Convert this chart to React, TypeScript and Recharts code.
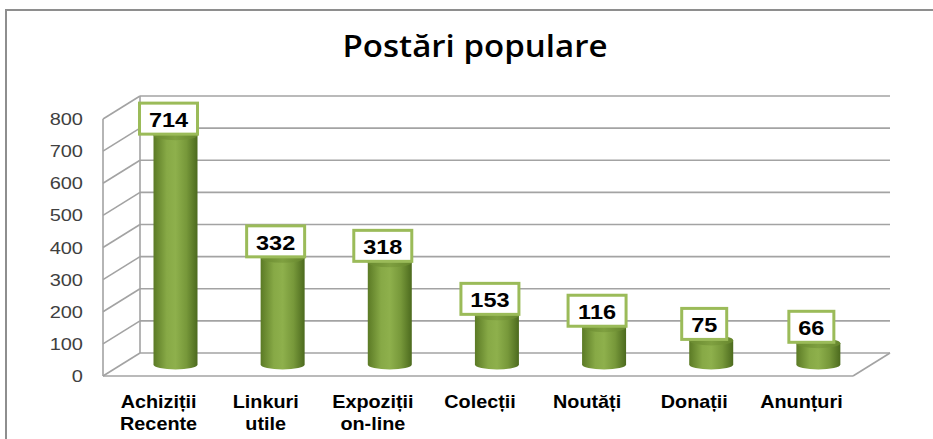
import React from "react";
import { BarChart, Bar, XAxis, YAxis, CartesianGrid, LabelList } from "recharts";

const categories = ["Achiziții Recente", "Linkuri utile", "Expoziții on-line", "Colecții", "Noutăți", "Donații", "Anunțuri"];
const categoryLines = [["Achiziții", "Recente"], ["Linkuri", "utile"], ["Expoziții", "on-line"], ["Colecții"], ["Noutăți"], ["Donații"], ["Anunțuri"]];
const values = [714, 332, 318, 153, 116, 75, 66];
const yTicks = [0, 100, 200, 300, 400, 500, 600, 700, 800];
const title = "Postări populare";

const data = categories.map((c, i) => ({ name: c, value: values[i], lines: categoryLines[i] }));

const W = 933;
const H = 439;
const MARGIN_TOP = 119;
const X_AXIS_H = 63;
const FLOOR_Y = H - X_AXIS_H;
const DX = 37;
const DY = -23;
const GRID = "#a3a3a3";
const FONT = "'Liberation Sans', Arial, sans-serif";

const GridLine = (props: any) => {
  const { x1, y1, x2 } = props;
  const isFloor = Math.abs(y1 - FLOOR_Y) < 2;
  const isTop = Math.abs(y1 - MARGIN_TOP) < 2;
  return (
    <g key={props.key}>
      <line x1={x1 + DX} y1={y1 + DY} x2={x2 + DX} y2={y1 + DY} stroke={GRID} strokeWidth={1.6} />
      <line x1={x1} y1={y1} x2={x1 + DX} y2={y1 + DY} stroke={GRID} strokeWidth={1.6} />
      {isFloor && <line x1={x2} y1={y1} x2={x2 + DX} y2={y1 + DY} stroke={GRID} strokeWidth={1.6} />}
      {isTop && <line x1={x1 + DX} y1={y1 + DY} x2={x1 + DX} y2={FLOOR_Y + DY} stroke={GRID} strokeWidth={1.6} />}
    </g>
  );
};

const Cylinder = (props: any) => {
  const { x, y, width, height, index } = props;
  const left = x + DX / 2;
  const right = left + width;
  const cx = left + width / 2;
  const top = y + DY / 2;
  const bottom = y + height + DY / 2;
  const rx = width / 2;
  const ry = 5;
  const gid = `cyl-body-${index}`;
  const tid = `cyl-top-${index}`;
  return (
    <g>
      <defs>
        <linearGradient id={gid} x1="0" y1="0" x2="1" y2="0">
          <stop offset="0%" stopColor="#5b7a25" />
          <stop offset="30%" stopColor="#87a946" />
          <stop offset="50%" stopColor="#8eb04c" />
          <stop offset="75%" stopColor="#77983a" />
          <stop offset="100%" stopColor="#4c6a1e" />
        </linearGradient>
        <linearGradient id={tid} x1="0" y1="0" x2="1" y2="0">
          <stop offset="0%" stopColor="#6a8a30" />
          <stop offset="50%" stopColor="#7fa040" />
          <stop offset="100%" stopColor="#66862d" />
        </linearGradient>
      </defs>
      <path
        d={`M${left},${top} L${left},${bottom} A${rx},${ry} 0 0 0 ${right},${bottom} L${right},${top} Z`}
        fill={`url(#${gid})`}
      />
      <ellipse cx={cx} cy={top} rx={rx} ry={ry} fill={`url(#${tid})`} />
    </g>
  );
};

const ValueBox = (props: any) => {
  const { x, y, width, value } = props;
  const s = String(value);
  const bw = s.length * 13 + 19;
  const bh = 31;
  const cx = x + width / 2 + DX / 2 - 7;
  const bottom = y + DY / 2 - 1;
  return (
    <g>
      <rect x={cx - bw / 2} y={bottom - bh} width={bw} height={bh} fill="#ffffff" stroke="#9bbb59" strokeWidth={3} />
      <text
        transform={`translate(${cx},${bottom - 7}) scale(1.12,1)`}
        textAnchor="middle"
        fontFamily={FONT}
        fontWeight="bold"
        fontSize={21}
        fill="#000"
      >
        {s}
      </text>
    </g>
  );
};

const XTick = (props: any) => {
  const { x, y, index } = props;
  const lines = categoryLines[index] || [];
  return (
    <g>
      {lines.map((l: string, i: number) => (
        <text
          key={i}
          transform={`translate(${x + 2},${y + 32 + i * 22}) scale(1.1,1)`}
          textAnchor="middle"
          fontFamily={FONT}
          fontWeight="bold"
          fontSize={18}
          fill="#000"
        >
          {l}
        </text>
      ))}
    </g>
  );
};

const YTick = (props: any) => {
  const { x, y, payload } = props;
  return (
    <text
      transform={`translate(${x},${y + 6}) scale(1.25,1)`}
      textAnchor="end"
      fontFamily={FONT}
      fontSize={16}
      fill="#404040"
    >
      {payload.value}
    </text>
  );
};

export default function App() {
  return (
    <div style={{ position: "absolute", left: 0, top: 0, width: W, height: H, overflow: "hidden", background: "#fff" }}>
      <div
        style={{
          position: "absolute",
          left: 5,
          top: 9,
          width: W + 20,
          height: H + 20,
          border: "2.5px solid #8e8e8e",
          boxSizing: "border-box",
        }}
      />
      <svg style={{ position: "absolute", left: 0, top: 0 }} width={W} height={80}>
        <text
          x={475}
          y={57}
          textAnchor="middle"
          fontFamily="'Open Sans', sans-serif"
          fontWeight={600}
          fontSize={31}
          textLength={265}
          lengthAdjust="spacingAndGlyphs"
          fill="#000"
        >
          {title}
        </text>
      </svg>
      <div style={{ position: "absolute", left: 0, top: 0 }}>
        <BarChart width={W} height={H} data={data} margin={{ top: MARGIN_TOP, right: 80, bottom: 0, left: 0 }}>
          <CartesianGrid vertical={false} horizontal={GridLine} />
          <XAxis
            dataKey="name"
            height={X_AXIS_H}
            axisLine={{ stroke: GRID, strokeWidth: 1.6 }}
            tickLine={false}
            tickSize={0}
            tickMargin={0}
            interval={0}
            tick={XTick}
          />
          <YAxis
            width={103}
            domain={[0, 800]}
            ticks={yTicks}
            axisLine={{ stroke: GRID, strokeWidth: 1.6 }}
            tickLine={false}
            tickSize={0}
            tickMargin={20}
            interval={0}
            tick={YTick}
          />
          <Bar dataKey="value" barSize={44} shape={Cylinder} isAnimationActive={false}>
            <LabelList dataKey="value" content={ValueBox} />
          </Bar>
        </BarChart>
      </div>
    </div>
  );
}
